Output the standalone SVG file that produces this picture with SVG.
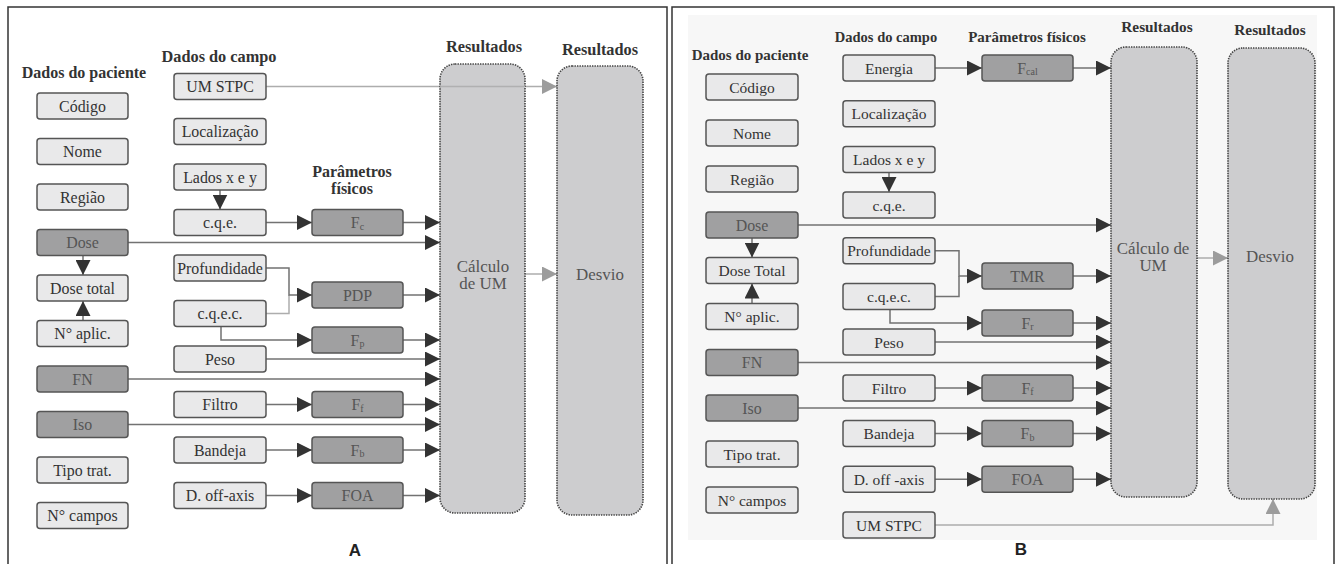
<svg xmlns="http://www.w3.org/2000/svg" width="1343" height="564" viewBox="0 0 1343 564">
<style>
.lt{fill:#e9e9ea;stroke:#555;stroke-width:1.5}
.dk{fill:#a0a0a1;stroke:#555;stroke-width:1.5}
.res{fill:#cdcdcf;stroke:#444;stroke-width:1.6;stroke-dasharray:1.4 1.1}
.t{font-family:"Liberation Serif","Times New Roman",serif;font-size:15.9px;fill:#333;text-anchor:middle;dominant-baseline:central}
.tb{font-size:15.5px}
.td{font-family:"Liberation Serif","Times New Roman",serif;font-size:15.9px;fill:#555;text-anchor:middle;dominant-baseline:central}
.h{font-family:"Liberation Serif","Times New Roman",serif;font-weight:bold;font-size:15.5px;fill:#333;text-anchor:middle}
.rt{font-family:"Liberation Serif","Times New Roman",serif;font-size:16.9px;fill:#555;text-anchor:middle}
.lbl{font-family:"Liberation Sans",sans-serif;font-weight:bold;font-size:17px;fill:#222;text-anchor:middle}
.c{fill:none;stroke:#727272;stroke-width:1.5}
.cl{fill:none;stroke:#adadad;stroke-width:1.5}
.a{marker-end:url(#ah)}
.ag{marker-end:url(#ahg)}
.frame{fill:none;stroke:#333;stroke-width:1.5}
.sub{font-size:10px}
</style>
<defs>
<marker id="ah" markerUnits="userSpaceOnUse" markerWidth="16" markerHeight="15" refX="15" refY="7.5" orient="auto" viewBox="0 0 16 15"><path d="M0,0 L15,7.5 L0,15 z" fill="#333"/></marker>
<marker id="ahg" markerUnits="userSpaceOnUse" markerWidth="16" markerHeight="15" refX="15" refY="7.5" orient="auto" viewBox="0 0 16 15"><path d="M0,0 L15,7.5 L0,15 z" fill="#9c9c9c"/></marker>
</defs>
<rect width="1343" height="564" fill="#fff"/>
<!-- frames -->
<path class="frame" d="M8,564 V7 H667 V564"/>
<path class="frame" d="M672,564 V7 H1334 V564"/>
<rect x="688" y="15" width="629" height="525" fill="#f7f7f7"/>

<!-- ===== Panel A headers ===== -->
<g id="A-headers">
<text class="h" x="84" y="78" style="font-size:16px">Dados do paciente</text>
<text class="h" x="219" y="62" style="font-size:16.3px">Dados do campo</text>
<text class="h" x="352" y="177" style="font-size:16px">Parâmetros</text>
<text class="h" x="352" y="194" style="font-size:16px">físicos</text>
<text class="h" x="484" y="52" style="font-size:16.3px">Resultados</text>
<text class="h" x="600" y="55" style="font-size:16.3px">Resultados</text>
<text class="lbl" x="355" y="556">A</text>
</g>

<!-- ===== Panel A connectors ===== -->
<g id="A-connectors">
<path class="cl ag" d="M266,86.5 H557"/>
<path class="c a" d="M220,190 V209.5"/>
<path class="c a" d="M266,222.5 H312"/>
<path class="c a" d="M403,222.5 H440"/>
<path class="c a" d="M128,242.5 H440"/>
<path class="c a" d="M83,255.5 V275"/>
<path class="c a" d="M83,320.5 V301"/>
<path class="cl" d="M266,313.5 H289 V295"/>
<path class="c a" d="M266,268 H289 V295 H312"/>
<path class="c a" d="M403,295 H440"/>
<path class="c a" d="M221,326.5 V340 H312"/>
<path class="c a" d="M403,340 H440"/>
<path class="c a" d="M266,359 H440"/>
<path class="c a" d="M128,379 H440"/>
<path class="c a" d="M266,404.5 H312"/>
<path class="c a" d="M403,404.5 H440"/>
<path class="c a" d="M128,424.5 H440"/>
<path class="c a" d="M266,450 H312"/>
<path class="c a" d="M403,450 H440"/>
<path class="c a" d="M266,495.5 H312"/>
<path class="c a" d="M403,495.5 H440"/>
<path class="cl ag" d="M525,274 H557"/>
</g>

<!-- ===== Panel A nodes ===== -->
<g id="A-codigo"><rect class="lt" x="37" y="93" width="91" height="26" rx="3"/><text class="t" x="82.5" y="106">Código</text></g>
<g id="A-nome"><rect class="lt" x="37" y="138.5" width="91" height="26" rx="3"/><text class="t" x="82.5" y="151.5">Nome</text></g>
<g id="A-regiao"><rect class="lt" x="37" y="184" width="91" height="26" rx="3"/><text class="t" x="82.5" y="197">Região</text></g>
<g id="A-dose"><rect class="dk" x="37" y="229.5" width="91" height="26" rx="3"/><text class="td" x="82.5" y="242.5">Dose</text></g>
<g id="A-dosetotal"><rect class="lt" x="37" y="275" width="91" height="26" rx="3"/><text class="t" x="82.5" y="288">Dose total</text></g>
<g id="A-naplic"><rect class="lt" x="37" y="320.5" width="91" height="26" rx="3"/><text class="t" x="82.5" y="333.5">N° aplic.</text></g>
<g id="A-fn"><rect class="dk" x="37" y="366" width="91" height="26" rx="3"/><text class="td" x="82.5" y="379">FN</text></g>
<g id="A-iso"><rect class="dk" x="37" y="411.5" width="91" height="26" rx="3"/><text class="td" x="82.5" y="424.5">Iso</text></g>
<g id="A-tipotrat"><rect class="lt" x="37" y="457" width="91" height="26" rx="3"/><text class="t" x="82.5" y="470">Tipo trat.</text></g>
<g id="A-ncampos"><rect class="lt" x="37" y="502.5" width="91" height="26" rx="3"/><text class="t" x="82.5" y="515.5">N° campos</text></g>

<g id="A-umstpc"><rect class="lt" x="174" y="73.5" width="92" height="26" rx="3"/><text class="t" x="220" y="86.5">UM STPC</text></g>
<g id="A-localizacao"><rect class="lt" x="174" y="118.5" width="92" height="26" rx="3"/><text class="t" x="220" y="131.5">Localização</text></g>
<g id="A-lados"><rect class="lt" x="174" y="164" width="92" height="26" rx="3"/><text class="t" x="220" y="177">Lados x e y</text></g>
<g id="A-cqe"><rect class="lt" x="174" y="209.5" width="92" height="26" rx="3"/><text class="t" x="220" y="222.5">c.q.e.</text></g>
<g id="A-profundidade"><rect class="lt" x="174" y="255" width="92" height="26" rx="3"/><text class="t" x="220" y="268">Profundidade</text></g>
<g id="A-cqec"><rect class="lt" x="174" y="300.5" width="92" height="26" rx="3"/><text class="t" x="220" y="313.5">c.q.e.c.</text></g>
<g id="A-peso"><rect class="lt" x="174" y="346" width="92" height="26" rx="3"/><text class="t" x="220" y="359">Peso</text></g>
<g id="A-filtro"><rect class="lt" x="174" y="391.5" width="92" height="26" rx="3"/><text class="t" x="220" y="404.5">Filtro</text></g>
<g id="A-bandeja"><rect class="lt" x="174" y="437" width="92" height="26" rx="3"/><text class="t" x="220" y="450">Bandeja</text></g>
<g id="A-doffaxis"><rect class="lt" x="174" y="482.5" width="92" height="26" rx="3"/><text class="t" x="220" y="495.5">D. off-axis</text></g>

<g id="A-fc"><rect class="dk" x="312" y="209.5" width="91" height="26" rx="3"/><text class="td" x="357.5" y="222.5">F<tspan class="sub" dy="3">c</tspan></text></g>
<g id="A-pdp"><rect class="dk" x="312" y="282" width="91" height="26" rx="3"/><text class="td" x="357.5" y="295">PDP</text></g>
<g id="A-fp"><rect class="dk" x="312" y="327" width="91" height="26" rx="3"/><text class="td" x="357.5" y="340">F<tspan class="sub" dy="3">p</tspan></text></g>
<g id="A-ff"><rect class="dk" x="312" y="391.5" width="91" height="26" rx="3"/><text class="td" x="357.5" y="404.5">F<tspan class="sub" dy="3">f</tspan></text></g>
<g id="A-fb"><rect class="dk" x="312" y="437" width="91" height="26" rx="3"/><text class="td" x="357.5" y="450">F<tspan class="sub" dy="3">b</tspan></text></g>
<g id="A-foa"><rect class="dk" x="312" y="482.5" width="91" height="26" rx="3"/><text class="td" x="357.5" y="495.5">FOA</text></g>

<g id="A-calculo"><rect class="res" x="440" y="64" width="85" height="449" rx="15"/><text class="rt" x="483" y="272">Cálculo</text><text class="rt" x="483" y="289">de UM</text></g>
<g id="A-desvio"><rect class="res" x="557" y="66" width="86" height="449" rx="15"/><text class="rt" x="600" y="280">Desvio</text></g>
<path class="cl" d="M440,86.5 H525" opacity="0.9"/>

<!-- ===== Panel B headers ===== -->
<g id="B-headers">
<text class="h" x="750" y="60" style="font-size:15px">Dados do paciente</text>
<text class="h" x="886" y="42" style="font-size:14.5px">Dados do campo</text>
<text class="h" x="1027" y="42" style="font-size:15px">Parâmetros físicos</text>
<text class="h" x="1157" y="32" style="font-size:15.3px">Resultados</text>
<text class="h" x="1270" y="35" style="font-size:15.3px">Resultados</text>
<text class="lbl" x="1021" y="555">B</text>
</g>

<!-- ===== Panel B connectors ===== -->
<g id="B-connectors">
<path class="c a" d="M935,68 H982"/>
<path class="c a" d="M1073,68 H1111"/>
<path class="c a" d="M889,172.5 V192"/>
<path class="c a" d="M798,225 H1111"/>
<path class="c a" d="M752,238 V257.5"/>
<path class="c a" d="M752,303.5 V283.5"/>
<path class="c" d="M935,296.5 H959 V276"/>
<path class="c a" d="M935,250.8 H959 V276 H982"/>
<path class="c a" d="M1073,276 H1111"/>
<path class="c a" d="M890,309.5 V323 H982"/>
<path class="c a" d="M1073,323 H1111"/>
<path class="c a" d="M935,342 H1111"/>
<path class="c a" d="M798,362.5 H1111"/>
<path class="c a" d="M935,388 H982"/>
<path class="c a" d="M1073,388 H1111"/>
<path class="c a" d="M798,408 H1111"/>
<path class="c a" d="M935,433.6 H982"/>
<path class="c a" d="M1073,433.6 H1111"/>
<path class="c a" d="M935,479.3 H982"/>
<path class="c a" d="M1073,479.3 H1111"/>
<path class="cl ag" d="M1197,258 H1228"/>
<path class="cl ag" d="M935,525 H1273 V499"/>
</g>

<!-- ===== Panel B nodes ===== -->
<g id="B-codigo"><rect class="lt" x="706" y="74" width="92" height="26" rx="3"/><text class="t tb" x="752" y="87">Código</text></g>
<g id="B-nome"><rect class="lt" x="706" y="120" width="92" height="26" rx="3"/><text class="t tb" x="752" y="133">Nome</text></g>
<g id="B-regiao"><rect class="lt" x="706" y="166" width="92" height="26" rx="3"/><text class="t tb" x="752" y="179">Região</text></g>
<g id="B-dose"><rect class="dk" x="706" y="212" width="92" height="26" rx="3"/><text class="td tb" x="752" y="225">Dose</text></g>
<g id="B-dosetotal"><rect class="lt" x="706" y="257.5" width="92" height="26" rx="3"/><text class="t tb" x="752" y="270.5">Dose Total</text></g>
<g id="B-naplic"><rect class="lt" x="706" y="303.5" width="92" height="26" rx="3"/><text class="t tb" x="752" y="316.5">N° aplic.</text></g>
<g id="B-fn"><rect class="dk" x="706" y="349.5" width="92" height="26" rx="3"/><text class="td tb" x="752" y="362.5">FN</text></g>
<g id="B-iso"><rect class="dk" x="706" y="395" width="92" height="26" rx="3"/><text class="td tb" x="752" y="408">Iso</text></g>
<g id="B-tipotrat"><rect class="lt" x="706" y="441" width="92" height="26" rx="3"/><text class="t tb" x="752" y="454">Tipo trat.</text></g>
<g id="B-ncampos"><rect class="lt" x="706" y="487" width="92" height="26" rx="3"/><text class="t tb" x="752" y="500">N° campos</text></g>

<g id="B-energia"><rect class="lt" x="843" y="55" width="92" height="26" rx="3"/><text class="t tb" x="889" y="68">Energia</text></g>
<g id="B-localizacao"><rect class="lt" x="843" y="100.7" width="92" height="26" rx="3"/><text class="t tb" x="889" y="113.7">Localização</text></g>
<g id="B-lados"><rect class="lt" x="843" y="146.4" width="92" height="26" rx="3"/><text class="t tb" x="889" y="159.4">Lados x e y</text></g>
<g id="B-cqe"><rect class="lt" x="843" y="192" width="92" height="26" rx="3"/><text class="t tb" x="889" y="205">c.q.e.</text></g>
<g id="B-profundidade"><rect class="lt" x="843" y="237.8" width="92" height="26" rx="3"/><text class="t tb" x="889" y="250.8">Profundidade</text></g>
<g id="B-cqec"><rect class="lt" x="843" y="283.5" width="92" height="26" rx="3"/><text class="t tb" x="889" y="296.5">c.q.e.c.</text></g>
<g id="B-peso"><rect class="lt" x="843" y="329" width="92" height="26" rx="3"/><text class="t tb" x="889" y="342">Peso</text></g>
<g id="B-filtro"><rect class="lt" x="843" y="375" width="92" height="26" rx="3"/><text class="t tb" x="889" y="388">Filtro</text></g>
<g id="B-bandeja"><rect class="lt" x="843" y="420.6" width="92" height="26" rx="3"/><text class="t tb" x="889" y="433.6">Bandeja</text></g>
<g id="B-doffaxis"><rect class="lt" x="843" y="466.3" width="92" height="26" rx="3"/><text class="t tb" x="889" y="479.3">D. off -axis</text></g>
<g id="B-umstpc"><rect class="lt" x="843" y="512" width="92" height="26" rx="3"/><text class="t tb" x="889" y="525">UM STPC</text></g>

<g id="B-fcal"><rect class="dk" x="982" y="55" width="91" height="26" rx="3"/><text class="td tb" x="1027.5" y="68">F<tspan class="sub" dy="3">cal</tspan></text></g>
<g id="B-tmr"><rect class="dk" x="982" y="263" width="91" height="26" rx="3"/><text class="td tb" x="1027.5" y="276">TMR</text></g>
<g id="B-fr"><rect class="dk" x="982" y="310" width="91" height="26" rx="3"/><text class="td tb" x="1027.5" y="323">F<tspan class="sub" dy="3">r</tspan></text></g>
<g id="B-ff"><rect class="dk" x="982" y="375" width="91" height="26" rx="3"/><text class="td tb" x="1027.5" y="388">F<tspan class="sub" dy="3">f</tspan></text></g>
<g id="B-fb"><rect class="dk" x="982" y="420.6" width="91" height="26" rx="3"/><text class="td tb" x="1027.5" y="433.6">F<tspan class="sub" dy="3">b</tspan></text></g>
<g id="B-foa"><rect class="dk" x="982" y="466.3" width="91" height="26" rx="3"/><text class="td tb" x="1027.5" y="479.3">FOA</text></g>

<g id="B-calculo"><rect class="res" x="1111" y="47" width="86" height="450" rx="15"/><text class="rt" x="1153" y="254">Cálculo de</text><text class="rt" x="1153" y="271">UM</text></g>
<g id="B-desvio"><rect class="res" x="1228" y="48" width="87" height="451" rx="15"/><text class="rt" x="1270" y="262">Desvio</text></g>
</svg>
